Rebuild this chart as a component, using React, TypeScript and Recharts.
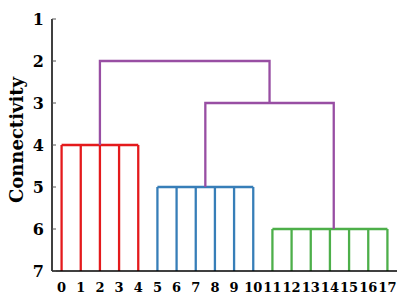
import React from "react";
import { ComposedChart, Line, XAxis, YAxis } from "recharts";

// leaf positions along the bottom axis
const leaves = [0, 1, 2, 3, 4, 5, 6, 7, 8, 9, 10, 11, 12, 13, 14, 15, 16, 17];
const yTicks = [1, 2, 3, 4, 5, 6, 7];
const baseLevel = 7;

// flat clusters: member leaves + merge height
const redLeaves = [0, 1, 2, 3, 4];
const blueLeaves = [5, 6, 7, 8, 9, 10];
const greenLeaves = [11, 12, 13, 14, 15, 16, 17];
const clusterHeights = [4, 5, 6];
const clusterColors = ["#e41a1c", "#377eb8", "#4daf4a"];

// upper links: [leftX, leftFrom, height, rightX, rightFrom]
const linkLower = [7.5, 5, 3, 14.2, 6];
const linkUpper = [2, 4, 2, 10.85, 3];
const linkColor = "#984ea3";

const FONT = "'DejaVu Serif', serif";

type Seg = { key: string; color: string; pts: { x: number; y: number }[] };

function buildSegments(): Seg[] {
  const segs: Seg[] = [];
  [redLeaves, blueLeaves, greenLeaves].forEach((members, ci) => {
    const h = clusterHeights[ci];
    const color = clusterColors[ci];
    members.forEach((leaf) => {
      segs.push({
        key: `v${ci}-${leaf}`,
        color,
        pts: [
          { x: leaf, y: baseLevel },
          { x: leaf, y: h },
        ],
      });
    });
    segs.push({
      key: `h${ci}`,
      color,
      pts: [
        { x: members[0], y: h },
        { x: members[members.length - 1], y: h },
      ],
    });
  });
  [linkLower, linkUpper].forEach((l, i) => {
    segs.push({
      key: `link${i}`,
      color: linkColor,
      pts: [
        { x: l[0], y: l[1] },
        { x: l[0], y: l[2] },
        { x: l[3], y: l[2] },
        { x: l[3], y: l[4] },
      ],
    });
  });
  return segs;
}

const LeftTick = (props: any) => {
  const { x, y, payload } = props;
  return (
    <g>
      <text
        x={x}
        y={y}
        textAnchor="end"
        dominantBaseline="central"
        fontFamily={FONT}
        fontWeight="bold"
        fontSize={16}
        fill="#000"
      >
        {payload.value}
      </text>
      <line x1={x + 8} x2={x + 12} y1={y} y2={y} stroke="#555" strokeWidth={1} />
    </g>
  );
};

const RightTick = (props: any) => {
  const { x, y } = props;
  return <line x1={x - 4} x2={x} y1={y} y2={y} stroke="#555" strokeWidth={1} />;
};

export default function App() {
  const segs = buildSegments();
  return (
    <div style={{ position: "absolute", left: 0, top: 0 }}>
      <ComposedChart
        width={407}
        height={305}
        margin={{ top: 19, right: 10, bottom: 4, left: 0 }}
      >
        <XAxis
          type="number"
          dataKey="x"
          domain={[-0.5, 17.5]}
          ticks={leaves}
          interval={0}
          height={30}
          allowDataOverflow
          tickLine={false}
          tickMargin={6}
          axisLine={{ stroke: "#000", strokeWidth: 1.5 }}
          tick={{ fontFamily: FONT, fontWeight: "bold", fontSize: 13, fill: "#000" }}
        />
        <XAxis
          xAxisId="top"
          orientation="top"
          type="number"
          domain={[-0.5, 17.5]}
          height={0}
          tick={false}
          tickLine={false}
          axisLine={{ stroke: "#000", strokeWidth: 1.5 }}
        />
        <YAxis
          type="number"
          domain={[1, 7]}
          ticks={yTicks}
          reversed
          width={52}
          tickSize={0}
          tickMargin={8}
          interval={0}
          axisLine={{ stroke: "#000", strokeWidth: 1.5 }}
          tick={<LeftTick />}
          label={{
            value: "Connectivity",
            angle: -90,
            position: "insideLeft",
            offset: 17,
            dy: -5,
            style: {
              textAnchor: "middle",
              fontFamily: FONT,
              fontWeight: "bold",
              fontSize: 18,
              fill: "#000",
            },
          }}
        />
        <YAxis
          yAxisId="right"
          orientation="right"
          type="number"
          domain={[1, 7]}
          ticks={yTicks}
          reversed
          width={0}
          tickSize={0}
          tickMargin={0}
          interval={0}
          axisLine={{ stroke: "#000", strokeWidth: 1.5 }}
          tick={<RightTick />}
        />
        {segs.map((s) => (
          <Line
            key={s.key}
            data={s.pts}
            dataKey="y"
            type="linear"
            stroke={s.color}
            strokeWidth={2.3}
            dot={false}
            activeDot={false}
            isAnimationActive={false}
            legendType="none"
          />
        ))}
      </ComposedChart>
    </div>
  );
}
